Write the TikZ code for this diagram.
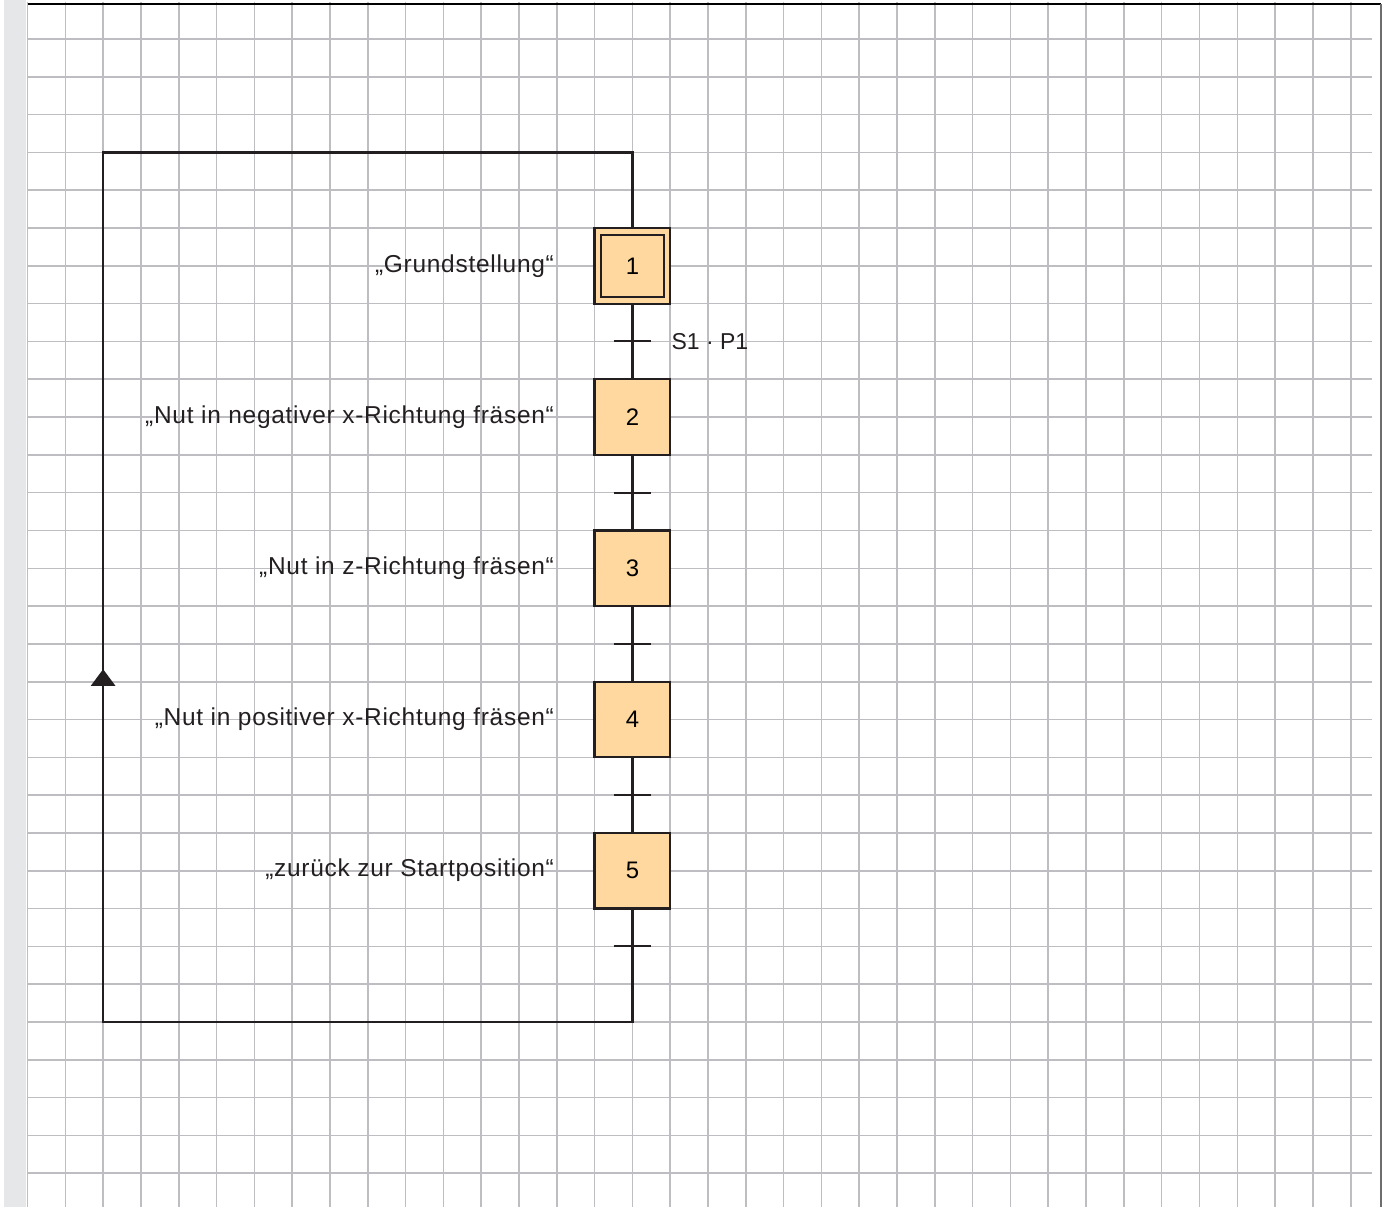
\documentclass[tikz,border=0pt]{standalone}
\usepackage{fontspec}
\setmainfont{Liberation Sans}
\newfontfamily\labelfont[LetterSpace=3]{Liberation Sans}
\usetikzlibrary{arrows.meta, positioning}

\definecolor{stepfill}{RGB}{254,216,158}
\definecolor{gridgray}{RGB}{190,190,194}
\definecolor{stripgray}{RGB}{230,231,232}
\definecolor{framegray}{RGB}{110,110,112}
\definecolor{linedark}{RGB}{35,31,32}

\begin{document}
\begin{tikzpicture}

\tikzset{gridline/.style = {draw=gridgray, line width=1.2pt}}
\tikzset{stepbox/.style = {shape=rectangle, draw=linedark, fill=stepfill, line width=1.7pt, minimum size=2cm, inner sep=0pt, font=\fontsize{18}{21}\selectfont}}
\tikzset{link/.style = {draw=linedark, line width=1.7pt}}
\tikzset{transbar/.style = {draw=linedark, line width=1.5pt}}
\tikzset{action/.style = {anchor=base east, inner sep=0pt, text=linedark, font=\labelfont\fontsize{18.4}{22}\selectfont}}

\useasboundingbox (-0.7275,1.032) rectangle (35.96,-30.90);
%paper
\fill[stripgray] (-0.62,1.032) rectangle (-0.03,-30.90);
\foreach \u in {0,...,35} \draw[gridline] (\u,0.98) -- (\u,-30.90);
\foreach \v in {0,...,30} \draw[gridline] (0,-\v) -- (35.57,-\v);
\draw[black, line width=0.9pt] (0,0.926) -- (35.8,0.926);
\draw[framegray, line width=1.5pt] (35.8,0.926) -- (35.8,-30.90);
%steps
\node[stepbox] (s1) at (16,-6) {1};
\node[draw=linedark, line width=1.4pt, minimum size=1.65cm, inner sep=0pt] (s1frame) at (s1.center) {};
\node[stepbox] (s2) at (16,-10) {2};
\node[stepbox] (s3) at (16,-14) {3};
\node[stepbox] (s4) at (16,-18) {4};
\node[stepbox] (s5) at (16,-22) {5};
%transitions
\coordinate (t1) at (16,-8);
\coordinate (t2) at (16,-12);
\coordinate (t3) at (16,-16);
\coordinate (t4) at (16,-20);
\coordinate (t5) at (16,-24);
%loop corners
\coordinate (c1) at (16,-26);
\coordinate (c2) at (2,-26);
\coordinate (c3) at (2,-3);
\coordinate (c4) at (16,-3);
\coordinate (tip) at (2,-16.67);
%links
\draw[link] (s1) -- (s2);
\draw[link] (s2) -- (s3);
\draw[link] (s3) -- (s4);
\draw[link] (s4) -- (s5);
\draw[link] (s5) -- (c1) -- (c2) -- (c3) -- (c4) -- (s1);
\draw[link, -{Triangle[width=0.64cm, length=0.44cm]}] (c2) -- (tip);
\foreach \t in {t1,t2,t3,t4,t5}
  \draw[transbar] ([xshift=-0.5cm]\t) -- ([xshift=0.5cm]\t);
%labels
\node[action] (a1) at (13.93,-6.17) {„Grundstellung“};
\node[action] (a2) at (13.93,-10.16) {„Nut in negativer x-Richtung fräsen“};
\node[action] (a3) at (13.93,-14.16) {„Nut in z-Richtung fräsen“};
\node[action] (a4) at (13.93,-18.16) {„Nut in positiver x-Richtung fräsen“};
\node[action] (a5) at (13.93,-22.16) {„zurück zur Startposition“};
\node[anchor=base west, inner sep=0pt, text=linedark, font=\fontsize{17.3}{20}\selectfont] (cond) at (17.03,-8.21) {S1 · P1};

\end{tikzpicture}
\end{document}
